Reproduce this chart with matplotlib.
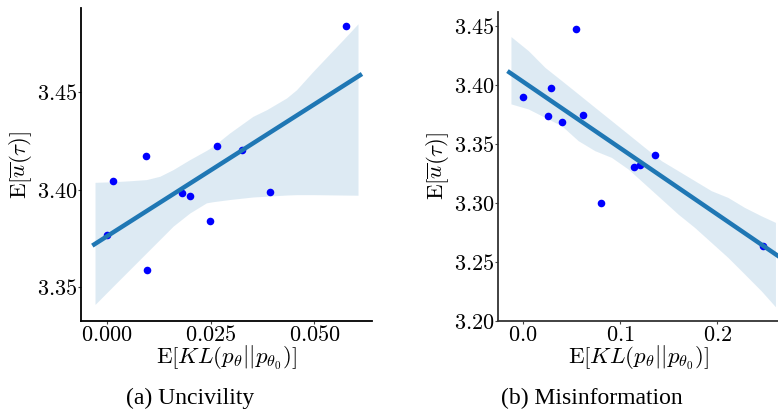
import numpy as np
import matplotlib
matplotlib.use("Agg")
import matplotlib.pyplot as plt
from matplotlib.ticker import FuncFormatter

plt.rcParams['mathtext.fontset'] = 'cm'

# (a) Uncivility
unc_kl = [0.0575, 0.0016, 0.0094, 0.0000, 0.0097, 0.0182, 0.0200, 0.0249, 0.0265, 0.0326, 0.0393]
unc_u = [3.4837, 3.4042, 3.4170, 3.3767, 3.3588, 3.3983, 3.3968, 3.3838, 3.4221, 3.4201, 3.3986]
# confidence band
unc_band_x = [-0.0028, 0.0016, 0.0056, 0.0096, 0.0128, 0.0160, 0.0200, 0.0240, 0.0256, 0.0296,
              0.0352, 0.0385, 0.0433, 0.0457, 0.0497, 0.0569, 0.0605]
unc_band_hi = [3.4037, 3.4040, 3.4045, 3.4051, 3.4068, 3.4102, 3.4153, 3.4200, 3.4221, 3.4289,
               3.4374, 3.4408, 3.4468, 3.4510, 3.4604, 3.4765, 3.4847]
unc_band_lo = [3.3413, 3.3507, 3.3592, 3.3677, 3.3745, 3.3813, 3.3880, 3.3932, 3.3938, 3.3949,
               3.3962, 3.3966, 3.3972, 3.3974, 3.3974, 3.3972, 3.3971]

# (b) Misinformation
mis_kl = [0.0544, 0.0003, 0.0290, 0.0260, 0.0400, 0.0622, 0.0810, 0.1145, 0.1210, 0.1360, 0.2468]
mis_u = [3.4477, 3.3901, 3.3971, 3.3739, 3.3688, 3.3748, 3.2997, 3.3302, 3.3319, 3.3409, 3.2636]
mis_band_x = [-0.0120, 0.0058, 0.0229, 0.0400, 0.0571, 0.0742, 0.0913, 0.1083, 0.1254, 0.1426,
              0.1596, 0.1767, 0.1938, 0.2109, 0.2280, 0.2451, 0.2598]
mis_band_hi = [3.4410, 3.4291, 3.4149, 3.4037, 3.3924, 3.3810, 3.3697, 3.3584, 3.3470, 3.3357,
               3.3273, 3.3188, 3.3103, 3.3046, 3.2961, 3.2890, 3.2834]
mis_band_lo = [3.3839, 3.3796, 3.3725, 3.3654, 3.3527, 3.3442, 3.3385, 3.3287, 3.3160, 3.3032,
               3.2905, 3.2791, 3.2664, 3.2537, 3.2396, 3.2254, 3.2118]

xlabel = r'$\mathrm{E}[KL(p_\theta||p_{\theta_0})]$'
ylabel = r'$\mathrm{E}[\overline{u}(\tau)]$'


def panel(ax, kl, u, bx, lo, hi, fit_range, xlim, ylim, xticks, yticks, xfmt, spine_col):
    ax.fill_between(bx, lo, hi, color='#1f77b4', alpha=0.15, linewidth=0)
    ax.scatter(kl, u, s=30, color='blue', zorder=3, linewidths=0)
    slope, icpt = np.polyfit(kl, u, 1)
    fx = np.array(fit_range)
    ax.plot(fx, slope * fx + icpt, color='#1f77b4', lw=3.2, zorder=4)
    ax.set_xlim(*xlim)
    ax.set_ylim(*ylim)
    ax.set_xticks(xticks)
    ax.set_yticks(yticks)
    ax.xaxis.set_major_formatter(FuncFormatter(lambda v, p: '$' + xfmt.format(v) + '$'))
    ax.yaxis.set_major_formatter(FuncFormatter(lambda v, p: '$%.2f$' % v))
    ax.tick_params(labelsize=16, length=2, width=0.8, color='#444444', pad=1)
    for s in ['top', 'right']:
        ax.spines[s].set_visible(False)
    for s in ['left', 'bottom']:
        ax.spines[s].set_color(spine_col)
        ax.spines[s].set_linewidth(1.3)
    ax.set_xlabel(xlabel, fontsize=16.5, labelpad=-1)
    ax.set_ylabel(ylabel, fontsize=16.5, labelpad=2)


fig = plt.figure(figsize=(7.78, 4.15), dpi=100)
ax1 = fig.add_axes([0.1045, 0.2272, 0.3733, 0.7528])
ax2 = fig.add_axes([0.6405, 0.2272, 0.3590, 0.7446])

panel(ax1, unc_kl, unc_u, unc_band_x, unc_band_lo, unc_band_hi, [-0.003, 0.061],
      (-0.0061, 0.0638), (3.333, 3.4926), [0.0, 0.025, 0.05], [3.35, 3.40, 3.45],
      '{:.3f}', 'black')
panel(ax2, mis_kl, mis_u, mis_band_x, mis_band_lo, mis_band_hi, [-0.0137, 0.262],
      (-0.025, 0.262), (3.20, 3.4621), [0.0, 0.1, 0.2], [3.20, 3.25, 3.30, 3.35, 3.40, 3.45],
      '{:.1f}', '#333333')

fig.text(0.244, 0.041, '(a) Uncivility', ha='center', va='center',
         family='Liberation Serif', fontsize=17)
fig.text(0.761, 0.041, '(b) Misinformation', ha='center', va='center',
         family='Liberation Serif', fontsize=17)

fig.savefig('out.png', dpi=100)
